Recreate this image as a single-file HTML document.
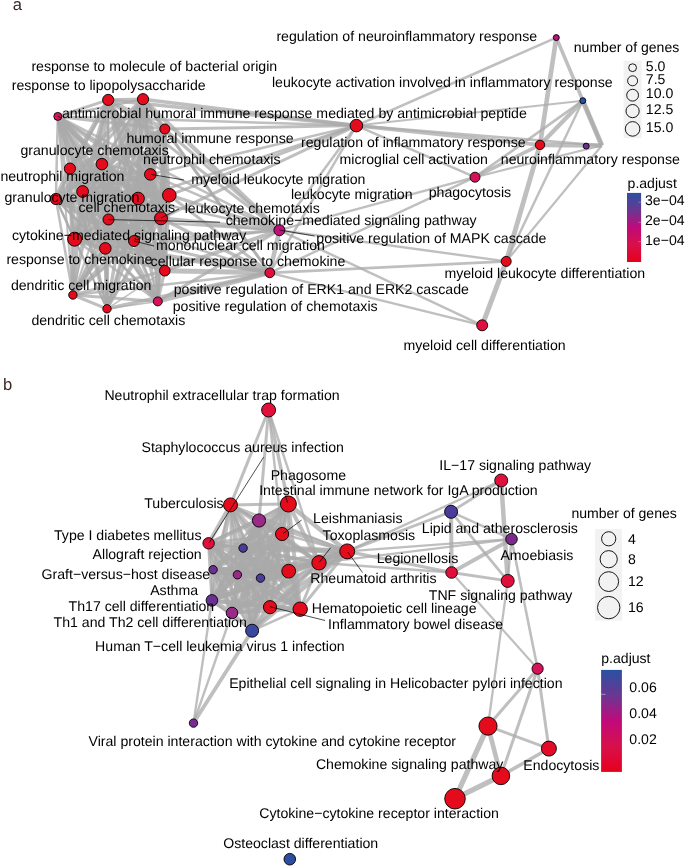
<!DOCTYPE html>
<html><head><meta charset="utf-8"><title>Enrichment map</title>
<style>
html,body{margin:0;padding:0;background:#fff;}
body{width:685px;height:867px;overflow:hidden;}
svg{display:block;}
text{font-family:"Liberation Sans",Arial,Helvetica,sans-serif;fill:#000;text-rendering:geometricPrecision;}
.lb text{font-size:14.14px;} .lbb text{font-size:14.12px;}
.lt{font-size:14.05px;}
.ll{font-size:14.1px;}
.pl{font-size:16.6px;fill:#3a2825;}
</style></head><body>
<svg width="685" height="867" viewBox="0 0 685 867">
<rect width="685" height="867" fill="#fff"/>
<g stroke="#a9a9a9" stroke-opacity="0.75" stroke-linecap="butt" fill="none">
<line x1="108.2" y1="99.9" x2="143.0" y2="99.2" stroke-width="3.5"/>
<line x1="108.2" y1="99.9" x2="57.8" y2="116.4" stroke-width="3.0"/>
<line x1="108.2" y1="99.9" x2="164.8" y2="129.0" stroke-width="4.0"/>
<line x1="108.2" y1="99.9" x2="69.9" y2="168.6" stroke-width="5.0"/>
<line x1="108.2" y1="99.9" x2="101.9" y2="164.1" stroke-width="2.5"/>
<line x1="108.2" y1="99.9" x2="150.3" y2="174.4" stroke-width="2.5"/>
<line x1="108.2" y1="99.9" x2="82.6" y2="191.5" stroke-width="4.5"/>
<line x1="108.2" y1="99.9" x2="55.9" y2="199.0" stroke-width="2.5"/>
<line x1="108.2" y1="99.9" x2="138.1" y2="198.5" stroke-width="3.5"/>
<line x1="108.2" y1="99.9" x2="169.3" y2="195.2" stroke-width="4.5"/>
<line x1="108.2" y1="99.9" x2="108.5" y2="219.5" stroke-width="2.5"/>
<line x1="108.2" y1="99.9" x2="161.0" y2="218.3" stroke-width="4.5"/>
<line x1="108.2" y1="99.9" x2="74.6" y2="239.2" stroke-width="3.0"/>
<line x1="108.2" y1="99.9" x2="134.0" y2="241.0" stroke-width="2.5"/>
<line x1="108.2" y1="99.9" x2="105.3" y2="248.4" stroke-width="2.5"/>
<line x1="108.2" y1="99.9" x2="164.8" y2="270.7" stroke-width="4.0"/>
<line x1="108.2" y1="99.9" x2="72.9" y2="295.0" stroke-width="3.0"/>
<line x1="108.2" y1="99.9" x2="157.8" y2="301.4" stroke-width="1.5"/>
<line x1="108.2" y1="99.9" x2="107.0" y2="308.8" stroke-width="2.0"/>
<line x1="143.0" y1="99.2" x2="57.8" y2="116.4" stroke-width="2.5"/>
<line x1="143.0" y1="99.2" x2="164.8" y2="129.0" stroke-width="4.5"/>
<line x1="143.0" y1="99.2" x2="69.9" y2="168.6" stroke-width="4.0"/>
<line x1="143.0" y1="99.2" x2="101.9" y2="164.1" stroke-width="2.5"/>
<line x1="143.0" y1="99.2" x2="150.3" y2="174.4" stroke-width="4.5"/>
<line x1="143.0" y1="99.2" x2="82.6" y2="191.5" stroke-width="2.5"/>
<line x1="143.0" y1="99.2" x2="55.9" y2="199.0" stroke-width="3.0"/>
<line x1="143.0" y1="99.2" x2="138.1" y2="198.5" stroke-width="5.0"/>
<line x1="143.0" y1="99.2" x2="169.3" y2="195.2" stroke-width="5.0"/>
<line x1="143.0" y1="99.2" x2="108.5" y2="219.5" stroke-width="4.5"/>
<line x1="143.0" y1="99.2" x2="161.0" y2="218.3" stroke-width="2.5"/>
<line x1="143.0" y1="99.2" x2="74.6" y2="239.2" stroke-width="4.5"/>
<line x1="143.0" y1="99.2" x2="134.0" y2="241.0" stroke-width="4.5"/>
<line x1="143.0" y1="99.2" x2="105.3" y2="248.4" stroke-width="4.0"/>
<line x1="143.0" y1="99.2" x2="164.8" y2="270.7" stroke-width="2.5"/>
<line x1="143.0" y1="99.2" x2="72.9" y2="295.0" stroke-width="2.0"/>
<line x1="143.0" y1="99.2" x2="157.8" y2="301.4" stroke-width="1.5"/>
<line x1="143.0" y1="99.2" x2="107.0" y2="308.8" stroke-width="3.5"/>
<line x1="57.8" y1="116.4" x2="164.8" y2="129.0" stroke-width="3.0"/>
<line x1="57.8" y1="116.4" x2="69.9" y2="168.6" stroke-width="3.5"/>
<line x1="57.8" y1="116.4" x2="101.9" y2="164.1" stroke-width="4.0"/>
<line x1="57.8" y1="116.4" x2="150.3" y2="174.4" stroke-width="3.0"/>
<line x1="57.8" y1="116.4" x2="82.6" y2="191.5" stroke-width="4.5"/>
<line x1="57.8" y1="116.4" x2="55.9" y2="199.0" stroke-width="2.5"/>
<line x1="57.8" y1="116.4" x2="138.1" y2="198.5" stroke-width="4.5"/>
<line x1="57.8" y1="116.4" x2="169.3" y2="195.2" stroke-width="3.5"/>
<line x1="57.8" y1="116.4" x2="108.5" y2="219.5" stroke-width="4.5"/>
<line x1="57.8" y1="116.4" x2="161.0" y2="218.3" stroke-width="5.0"/>
<line x1="57.8" y1="116.4" x2="74.6" y2="239.2" stroke-width="3.0"/>
<line x1="57.8" y1="116.4" x2="134.0" y2="241.0" stroke-width="2.5"/>
<line x1="57.8" y1="116.4" x2="105.3" y2="248.4" stroke-width="4.5"/>
<line x1="57.8" y1="116.4" x2="164.8" y2="270.7" stroke-width="4.5"/>
<line x1="57.8" y1="116.4" x2="72.9" y2="295.0" stroke-width="2.0"/>
<line x1="57.8" y1="116.4" x2="157.8" y2="301.4" stroke-width="2.5"/>
<line x1="57.8" y1="116.4" x2="107.0" y2="308.8" stroke-width="1.5"/>
<line x1="164.8" y1="129.0" x2="69.9" y2="168.6" stroke-width="4.5"/>
<line x1="164.8" y1="129.0" x2="101.9" y2="164.1" stroke-width="5.0"/>
<line x1="164.8" y1="129.0" x2="150.3" y2="174.4" stroke-width="2.5"/>
<line x1="164.8" y1="129.0" x2="82.6" y2="191.5" stroke-width="4.5"/>
<line x1="164.8" y1="129.0" x2="55.9" y2="199.0" stroke-width="2.5"/>
<line x1="164.8" y1="129.0" x2="138.1" y2="198.5" stroke-width="4.5"/>
<line x1="164.8" y1="129.0" x2="169.3" y2="195.2" stroke-width="3.0"/>
<line x1="164.8" y1="129.0" x2="108.5" y2="219.5" stroke-width="4.0"/>
<line x1="164.8" y1="129.0" x2="161.0" y2="218.3" stroke-width="5.0"/>
<line x1="164.8" y1="129.0" x2="74.6" y2="239.2" stroke-width="4.5"/>
<line x1="164.8" y1="129.0" x2="134.0" y2="241.0" stroke-width="4.0"/>
<line x1="164.8" y1="129.0" x2="105.3" y2="248.4" stroke-width="3.5"/>
<line x1="164.8" y1="129.0" x2="164.8" y2="270.7" stroke-width="4.0"/>
<line x1="164.8" y1="129.0" x2="72.9" y2="295.0" stroke-width="3.5"/>
<line x1="164.8" y1="129.0" x2="157.8" y2="301.4" stroke-width="3.0"/>
<line x1="164.8" y1="129.0" x2="107.0" y2="308.8" stroke-width="2.5"/>
<line x1="69.9" y1="168.6" x2="101.9" y2="164.1" stroke-width="3.5"/>
<line x1="69.9" y1="168.6" x2="150.3" y2="174.4" stroke-width="3.0"/>
<line x1="69.9" y1="168.6" x2="82.6" y2="191.5" stroke-width="3.0"/>
<line x1="69.9" y1="168.6" x2="55.9" y2="199.0" stroke-width="5.0"/>
<line x1="69.9" y1="168.6" x2="138.1" y2="198.5" stroke-width="3.0"/>
<line x1="69.9" y1="168.6" x2="169.3" y2="195.2" stroke-width="2.5"/>
<line x1="69.9" y1="168.6" x2="108.5" y2="219.5" stroke-width="4.5"/>
<line x1="69.9" y1="168.6" x2="161.0" y2="218.3" stroke-width="3.5"/>
<line x1="69.9" y1="168.6" x2="74.6" y2="239.2" stroke-width="4.5"/>
<line x1="69.9" y1="168.6" x2="134.0" y2="241.0" stroke-width="4.0"/>
<line x1="69.9" y1="168.6" x2="105.3" y2="248.4" stroke-width="3.5"/>
<line x1="69.9" y1="168.6" x2="164.8" y2="270.7" stroke-width="5.0"/>
<line x1="69.9" y1="168.6" x2="72.9" y2="295.0" stroke-width="3.0"/>
<line x1="69.9" y1="168.6" x2="157.8" y2="301.4" stroke-width="2.5"/>
<line x1="69.9" y1="168.6" x2="107.0" y2="308.8" stroke-width="3.5"/>
<line x1="101.9" y1="164.1" x2="150.3" y2="174.4" stroke-width="2.5"/>
<line x1="101.9" y1="164.1" x2="82.6" y2="191.5" stroke-width="2.5"/>
<line x1="101.9" y1="164.1" x2="55.9" y2="199.0" stroke-width="4.5"/>
<line x1="101.9" y1="164.1" x2="138.1" y2="198.5" stroke-width="4.0"/>
<line x1="101.9" y1="164.1" x2="169.3" y2="195.2" stroke-width="3.0"/>
<line x1="101.9" y1="164.1" x2="108.5" y2="219.5" stroke-width="3.5"/>
<line x1="101.9" y1="164.1" x2="161.0" y2="218.3" stroke-width="3.0"/>
<line x1="101.9" y1="164.1" x2="74.6" y2="239.2" stroke-width="4.0"/>
<line x1="101.9" y1="164.1" x2="134.0" y2="241.0" stroke-width="4.0"/>
<line x1="101.9" y1="164.1" x2="105.3" y2="248.4" stroke-width="2.5"/>
<line x1="101.9" y1="164.1" x2="164.8" y2="270.7" stroke-width="5.0"/>
<line x1="101.9" y1="164.1" x2="72.9" y2="295.0" stroke-width="1.5"/>
<line x1="101.9" y1="164.1" x2="157.8" y2="301.4" stroke-width="3.5"/>
<line x1="101.9" y1="164.1" x2="107.0" y2="308.8" stroke-width="3.5"/>
<line x1="150.3" y1="174.4" x2="82.6" y2="191.5" stroke-width="3.5"/>
<line x1="150.3" y1="174.4" x2="55.9" y2="199.0" stroke-width="3.5"/>
<line x1="150.3" y1="174.4" x2="138.1" y2="198.5" stroke-width="5.0"/>
<line x1="150.3" y1="174.4" x2="169.3" y2="195.2" stroke-width="3.5"/>
<line x1="150.3" y1="174.4" x2="108.5" y2="219.5" stroke-width="4.5"/>
<line x1="150.3" y1="174.4" x2="161.0" y2="218.3" stroke-width="4.0"/>
<line x1="150.3" y1="174.4" x2="74.6" y2="239.2" stroke-width="4.5"/>
<line x1="150.3" y1="174.4" x2="134.0" y2="241.0" stroke-width="4.0"/>
<line x1="150.3" y1="174.4" x2="105.3" y2="248.4" stroke-width="2.5"/>
<line x1="150.3" y1="174.4" x2="164.8" y2="270.7" stroke-width="2.5"/>
<line x1="150.3" y1="174.4" x2="72.9" y2="295.0" stroke-width="2.5"/>
<line x1="150.3" y1="174.4" x2="157.8" y2="301.4" stroke-width="3.0"/>
<line x1="150.3" y1="174.4" x2="107.0" y2="308.8" stroke-width="1.5"/>
<line x1="82.6" y1="191.5" x2="55.9" y2="199.0" stroke-width="2.5"/>
<line x1="82.6" y1="191.5" x2="138.1" y2="198.5" stroke-width="5.0"/>
<line x1="82.6" y1="191.5" x2="169.3" y2="195.2" stroke-width="5.0"/>
<line x1="82.6" y1="191.5" x2="108.5" y2="219.5" stroke-width="3.5"/>
<line x1="82.6" y1="191.5" x2="161.0" y2="218.3" stroke-width="5.0"/>
<line x1="82.6" y1="191.5" x2="74.6" y2="239.2" stroke-width="4.5"/>
<line x1="82.6" y1="191.5" x2="134.0" y2="241.0" stroke-width="5.0"/>
<line x1="82.6" y1="191.5" x2="105.3" y2="248.4" stroke-width="4.0"/>
<line x1="82.6" y1="191.5" x2="164.8" y2="270.7" stroke-width="3.5"/>
<line x1="82.6" y1="191.5" x2="72.9" y2="295.0" stroke-width="3.0"/>
<line x1="82.6" y1="191.5" x2="157.8" y2="301.4" stroke-width="2.5"/>
<line x1="82.6" y1="191.5" x2="107.0" y2="308.8" stroke-width="1.5"/>
<line x1="55.9" y1="199.0" x2="138.1" y2="198.5" stroke-width="4.0"/>
<line x1="55.9" y1="199.0" x2="169.3" y2="195.2" stroke-width="3.5"/>
<line x1="55.9" y1="199.0" x2="108.5" y2="219.5" stroke-width="3.0"/>
<line x1="55.9" y1="199.0" x2="161.0" y2="218.3" stroke-width="4.5"/>
<line x1="55.9" y1="199.0" x2="74.6" y2="239.2" stroke-width="2.5"/>
<line x1="55.9" y1="199.0" x2="134.0" y2="241.0" stroke-width="4.0"/>
<line x1="55.9" y1="199.0" x2="105.3" y2="248.4" stroke-width="2.5"/>
<line x1="55.9" y1="199.0" x2="164.8" y2="270.7" stroke-width="3.0"/>
<line x1="55.9" y1="199.0" x2="72.9" y2="295.0" stroke-width="2.5"/>
<line x1="55.9" y1="199.0" x2="157.8" y2="301.4" stroke-width="2.0"/>
<line x1="55.9" y1="199.0" x2="107.0" y2="308.8" stroke-width="2.0"/>
<line x1="138.1" y1="198.5" x2="169.3" y2="195.2" stroke-width="4.0"/>
<line x1="138.1" y1="198.5" x2="108.5" y2="219.5" stroke-width="4.0"/>
<line x1="138.1" y1="198.5" x2="161.0" y2="218.3" stroke-width="4.0"/>
<line x1="138.1" y1="198.5" x2="74.6" y2="239.2" stroke-width="2.5"/>
<line x1="138.1" y1="198.5" x2="134.0" y2="241.0" stroke-width="3.0"/>
<line x1="138.1" y1="198.5" x2="105.3" y2="248.4" stroke-width="4.0"/>
<line x1="138.1" y1="198.5" x2="164.8" y2="270.7" stroke-width="4.0"/>
<line x1="138.1" y1="198.5" x2="72.9" y2="295.0" stroke-width="3.5"/>
<line x1="138.1" y1="198.5" x2="157.8" y2="301.4" stroke-width="2.5"/>
<line x1="138.1" y1="198.5" x2="107.0" y2="308.8" stroke-width="2.0"/>
<line x1="169.3" y1="195.2" x2="108.5" y2="219.5" stroke-width="4.0"/>
<line x1="169.3" y1="195.2" x2="161.0" y2="218.3" stroke-width="4.5"/>
<line x1="169.3" y1="195.2" x2="74.6" y2="239.2" stroke-width="3.5"/>
<line x1="169.3" y1="195.2" x2="134.0" y2="241.0" stroke-width="5.0"/>
<line x1="169.3" y1="195.2" x2="105.3" y2="248.4" stroke-width="4.0"/>
<line x1="169.3" y1="195.2" x2="164.8" y2="270.7" stroke-width="3.5"/>
<line x1="169.3" y1="195.2" x2="72.9" y2="295.0" stroke-width="3.0"/>
<line x1="169.3" y1="195.2" x2="157.8" y2="301.4" stroke-width="2.0"/>
<line x1="169.3" y1="195.2" x2="107.0" y2="308.8" stroke-width="2.0"/>
<line x1="108.5" y1="219.5" x2="161.0" y2="218.3" stroke-width="2.5"/>
<line x1="108.5" y1="219.5" x2="74.6" y2="239.2" stroke-width="3.0"/>
<line x1="108.5" y1="219.5" x2="134.0" y2="241.0" stroke-width="3.0"/>
<line x1="108.5" y1="219.5" x2="105.3" y2="248.4" stroke-width="3.0"/>
<line x1="108.5" y1="219.5" x2="164.8" y2="270.7" stroke-width="5.0"/>
<line x1="108.5" y1="219.5" x2="72.9" y2="295.0" stroke-width="2.0"/>
<line x1="108.5" y1="219.5" x2="157.8" y2="301.4" stroke-width="1.5"/>
<line x1="108.5" y1="219.5" x2="107.0" y2="308.8" stroke-width="3.0"/>
<line x1="161.0" y1="218.3" x2="74.6" y2="239.2" stroke-width="4.5"/>
<line x1="161.0" y1="218.3" x2="134.0" y2="241.0" stroke-width="3.0"/>
<line x1="161.0" y1="218.3" x2="105.3" y2="248.4" stroke-width="3.5"/>
<line x1="161.0" y1="218.3" x2="164.8" y2="270.7" stroke-width="3.5"/>
<line x1="161.0" y1="218.3" x2="72.9" y2="295.0" stroke-width="1.5"/>
<line x1="161.0" y1="218.3" x2="157.8" y2="301.4" stroke-width="2.0"/>
<line x1="161.0" y1="218.3" x2="107.0" y2="308.8" stroke-width="3.0"/>
<line x1="74.6" y1="239.2" x2="134.0" y2="241.0" stroke-width="4.5"/>
<line x1="74.6" y1="239.2" x2="105.3" y2="248.4" stroke-width="3.5"/>
<line x1="74.6" y1="239.2" x2="164.8" y2="270.7" stroke-width="4.5"/>
<line x1="74.6" y1="239.2" x2="72.9" y2="295.0" stroke-width="3.5"/>
<line x1="74.6" y1="239.2" x2="157.8" y2="301.4" stroke-width="2.5"/>
<line x1="74.6" y1="239.2" x2="107.0" y2="308.8" stroke-width="2.0"/>
<line x1="134.0" y1="241.0" x2="105.3" y2="248.4" stroke-width="5.0"/>
<line x1="134.0" y1="241.0" x2="164.8" y2="270.7" stroke-width="4.5"/>
<line x1="134.0" y1="241.0" x2="72.9" y2="295.0" stroke-width="3.5"/>
<line x1="134.0" y1="241.0" x2="157.8" y2="301.4" stroke-width="1.5"/>
<line x1="134.0" y1="241.0" x2="107.0" y2="308.8" stroke-width="3.0"/>
<line x1="105.3" y1="248.4" x2="164.8" y2="270.7" stroke-width="5.0"/>
<line x1="105.3" y1="248.4" x2="72.9" y2="295.0" stroke-width="3.5"/>
<line x1="105.3" y1="248.4" x2="157.8" y2="301.4" stroke-width="3.0"/>
<line x1="105.3" y1="248.4" x2="107.0" y2="308.8" stroke-width="3.0"/>
<line x1="164.8" y1="270.7" x2="72.9" y2="295.0" stroke-width="3.0"/>
<line x1="164.8" y1="270.7" x2="157.8" y2="301.4" stroke-width="3.0"/>
<line x1="164.8" y1="270.7" x2="107.0" y2="308.8" stroke-width="1.5"/>
<line x1="72.9" y1="295.0" x2="157.8" y2="301.4" stroke-width="3.0"/>
<line x1="72.9" y1="295.0" x2="107.0" y2="308.8" stroke-width="3.0"/>
<line x1="157.8" y1="301.4" x2="107.0" y2="308.8" stroke-width="1.5"/>
<line x1="108.2" y1="99.9" x2="356.4" y2="125.6" stroke-width="3.5"/>
<line x1="143.0" y1="99.2" x2="356.4" y2="125.6" stroke-width="3.5"/>
<line x1="57.8" y1="116.4" x2="356.4" y2="125.6" stroke-width="2.5"/>
<line x1="164.8" y1="129.0" x2="356.4" y2="125.6" stroke-width="3.0"/>
<line x1="150.3" y1="174.4" x2="356.4" y2="125.6" stroke-width="2.5"/>
<line x1="169.3" y1="195.2" x2="356.4" y2="125.6" stroke-width="3.0"/>
<line x1="161.0" y1="218.3" x2="356.4" y2="125.6" stroke-width="3.0"/>
<line x1="138.1" y1="198.5" x2="356.4" y2="125.6" stroke-width="2.5"/>
<line x1="108.2" y1="99.9" x2="279.4" y2="230.2" stroke-width="3.0"/>
<line x1="143.0" y1="99.2" x2="279.4" y2="230.2" stroke-width="4.2"/>
<line x1="57.8" y1="116.4" x2="279.4" y2="230.2" stroke-width="2.5"/>
<line x1="164.8" y1="129.0" x2="279.4" y2="230.2" stroke-width="3.2"/>
<line x1="150.3" y1="174.4" x2="279.4" y2="230.2" stroke-width="2.5"/>
<line x1="169.3" y1="195.2" x2="279.4" y2="230.2" stroke-width="3.5"/>
<line x1="161.0" y1="218.3" x2="279.4" y2="230.2" stroke-width="4.0"/>
<line x1="138.1" y1="198.5" x2="279.4" y2="230.2" stroke-width="2.5"/>
<line x1="134.0" y1="241.0" x2="279.4" y2="230.2" stroke-width="3.0"/>
<line x1="164.8" y1="270.7" x2="279.4" y2="230.2" stroke-width="4.0"/>
<line x1="157.8" y1="301.4" x2="279.4" y2="230.2" stroke-width="3.0"/>
<line x1="108.5" y1="219.5" x2="279.4" y2="230.2" stroke-width="2.5"/>
<line x1="105.3" y1="248.4" x2="279.4" y2="230.2" stroke-width="2.5"/>
<line x1="143.0" y1="99.2" x2="269.8" y2="272.8" stroke-width="2.5"/>
<line x1="164.8" y1="129.0" x2="269.8" y2="272.8" stroke-width="3.0"/>
<line x1="169.3" y1="195.2" x2="269.8" y2="272.8" stroke-width="3.0"/>
<line x1="161.0" y1="218.3" x2="269.8" y2="272.8" stroke-width="3.5"/>
<line x1="134.0" y1="241.0" x2="269.8" y2="272.8" stroke-width="3.0"/>
<line x1="164.8" y1="270.7" x2="269.8" y2="272.8" stroke-width="5.0"/>
<line x1="157.8" y1="301.4" x2="269.8" y2="272.8" stroke-width="4.5"/>
<line x1="107.0" y1="308.8" x2="269.8" y2="272.8" stroke-width="3.5"/>
<line x1="105.3" y1="248.4" x2="269.8" y2="272.8" stroke-width="3.0"/>
<line x1="74.6" y1="239.2" x2="269.8" y2="272.8" stroke-width="3.0"/>
<line x1="108.5" y1="219.5" x2="269.8" y2="272.8" stroke-width="2.5"/>
<line x1="72.9" y1="295.0" x2="269.8" y2="272.8" stroke-width="2.5"/>
<line x1="279.4" y1="230.2" x2="269.8" y2="272.8" stroke-width="4.5"/>
<line x1="356.4" y1="125.6" x2="279.4" y2="230.2" stroke-width="2.5"/>
<line x1="356.4" y1="125.6" x2="269.8" y2="272.8" stroke-width="2.5"/>
<line x1="356.4" y1="125.6" x2="556.3" y2="37.6" stroke-width="2.6"/>
<line x1="356.4" y1="125.6" x2="582.8" y2="100.7" stroke-width="2.0"/>
<line x1="356.4" y1="125.6" x2="540.0" y2="144.9" stroke-width="3.8"/>
<line x1="356.4" y1="125.6" x2="601.8" y2="145.5" stroke-width="2.6"/>
<line x1="356.4" y1="125.6" x2="475.0" y2="177.2" stroke-width="2.4"/>
<line x1="475.0" y1="177.2" x2="279.4" y2="230.2" stroke-width="2.4"/>
<line x1="475.0" y1="177.2" x2="269.8" y2="272.8" stroke-width="2.4"/>
<line x1="475.0" y1="177.2" x2="540.0" y2="144.9" stroke-width="3.7"/>
<line x1="475.0" y1="177.2" x2="582.8" y2="100.7" stroke-width="2.7"/>
<line x1="475.0" y1="177.2" x2="601.8" y2="145.5" stroke-width="2.2"/>
<line x1="279.4" y1="230.2" x2="506.2" y2="261.4" stroke-width="2.4"/>
<line x1="279.4" y1="230.2" x2="482.2" y2="325.3" stroke-width="2.4"/>
<line x1="269.8" y1="272.8" x2="506.2" y2="261.4" stroke-width="2.8"/>
<line x1="269.8" y1="272.8" x2="482.2" y2="325.3" stroke-width="2.4"/>
<line x1="506.2" y1="261.4" x2="482.2" y2="325.3" stroke-width="5.0"/>
<line x1="506.2" y1="261.4" x2="540.0" y2="144.9" stroke-width="4.8"/>
<line x1="506.2" y1="261.4" x2="601.8" y2="145.5" stroke-width="2.2"/>
<line x1="506.2" y1="261.4" x2="582.8" y2="100.7" stroke-width="2.4"/>
<line x1="556.3" y1="37.6" x2="540.0" y2="144.9" stroke-width="4.6"/>
<line x1="556.3" y1="37.6" x2="601.8" y2="145.5" stroke-width="3.6"/>
<line x1="582.8" y1="100.7" x2="540.0" y2="144.9" stroke-width="4.3"/>
<line x1="582.8" y1="100.7" x2="601.8" y2="145.5" stroke-width="5.0"/>
<line x1="540.0" y1="144.9" x2="601.8" y2="145.5" stroke-width="4.7"/>
</g>
<g stroke="#000" stroke-width="0.9">
<circle cx="108.2" cy="99.9" r="5.6" fill="#e30b1c"/>
<circle cx="143.0" cy="99.2" r="5.6" fill="#e30b1c"/>
<circle cx="57.8" cy="116.4" r="4.0" fill="#d8125a"/>
<circle cx="164.8" cy="129.0" r="5.0" fill="#e30b1c"/>
<circle cx="69.9" cy="168.6" r="5.6" fill="#e30b1c"/>
<circle cx="101.9" cy="164.1" r="5.8" fill="#e30b1c"/>
<circle cx="150.3" cy="174.4" r="5.8" fill="#e30b1c"/>
<circle cx="82.6" cy="191.5" r="5.9" fill="#e30b1c"/>
<circle cx="55.9" cy="199.0" r="5.6" fill="#e30b1c"/>
<circle cx="138.1" cy="198.5" r="6.3" fill="#e30b1c"/>
<circle cx="169.3" cy="195.2" r="6.8" fill="#e30b1c"/>
<circle cx="108.5" cy="219.5" r="5.5" fill="#e30b1c"/>
<circle cx="161.0" cy="218.3" r="6.5" fill="#e30b1c"/>
<circle cx="74.6" cy="239.2" r="7.0" fill="#e30b1c"/>
<circle cx="134.0" cy="241.0" r="5.5" fill="#e30b1c"/>
<circle cx="105.3" cy="248.4" r="5.8" fill="#e30b1c"/>
<circle cx="164.8" cy="270.7" r="5.3" fill="#e30b1c"/>
<circle cx="72.9" cy="295.0" r="4.2" fill="#e30b1c"/>
<circle cx="157.8" cy="301.4" r="4.5" fill="#d8125a"/>
<circle cx="107.0" cy="308.8" r="4.2" fill="#e30b1c"/>
<circle cx="356.4" cy="125.6" r="6.3" fill="#e30b1c"/>
<circle cx="279.4" cy="230.2" r="5.5" fill="#c0107a"/>
<circle cx="269.8" cy="272.8" r="4.9" fill="#e00f3c"/>
<circle cx="556.3" cy="37.6" r="3.0" fill="#c0107a"/>
<circle cx="582.8" cy="100.7" r="3.0" fill="#2b4ea2"/>
<circle cx="540.0" cy="144.9" r="4.7" fill="#e30b1c"/>
<circle cx="586.2" cy="146.1" r="3.0" fill="#6a3090"/>
<circle cx="475.0" cy="177.2" r="5.0" fill="#d8125a"/>
<circle cx="506.2" cy="261.4" r="5.0" fill="#e30b1c"/>
<circle cx="482.2" cy="325.3" r="5.5" fill="#e00f3c"/>
</g>
<g stroke="#000" stroke-width="0.7">
<line x1="57.8" y1="116.4" x2="61.5" y2="117.8"/>
<line x1="151.0" y1="174.4" x2="184.0" y2="180.0"/>
<line x1="161.0" y1="218.0" x2="179.0" y2="209.0"/>
<line x1="108.7" y1="219.6" x2="220.0" y2="222.2"/>
<line x1="134.0" y1="241.0" x2="154.0" y2="246.0"/>
<line x1="279.5" y1="230.0" x2="314.5" y2="236.0"/>
</g>
<g class="lb">
<text x="276.4" y="40.9">regulation of neuroinflammatory response</text>
<text x="271.9" y="86.9">leukocyte activation involved in inflammatory response</text>
<text x="31.4" y="70.9">response to molecule of bacterial origin</text>
<text x="11.7" y="89.9">response to lipopolysaccharide</text>
<text x="62.0" y="117.9">antimicrobial humoral immune response mediated by antimicrobial peptide</text>
<text x="126.4" y="143.2">humoral immune response</text>
<text x="301.0" y="147.1">regulation of inflammatory response</text>
<text x="20.4" y="154.7">granulocyte chemotaxis</text>
<text x="143.1" y="164.4">neutrophil chemotaxis</text>
<text x="339.5" y="163.6">microglial cell activation</text>
<text x="500.8" y="163.6">neuroinflammatory response</text>
<text x="0.4" y="180.7">neutrophil migration</text>
<text x="191.2" y="183.5">myeloid leukocyte migration</text>
<text x="290.9" y="198.7">leukocyte migration</text>
<text x="428.7" y="197.2">phagocytosis</text>
<text x="4.4" y="201.5">granulocyte migration</text>
<text x="78.5" y="211.9">cell chemotaxis</text>
<text x="184.7" y="212.9">leukocyte chemotaxis</text>
<text x="225.7" y="224.9">chemokine−mediated signaling pathway</text>
<text x="11.9" y="239.9">cytokine−mediated signaling pathway</text>
<text x="316.3" y="243.1">positive regulation of MAPK cascade</text>
<text x="156.1" y="249.6">mononuclear cell migration</text>
<text x="6.4" y="263.6">response to chemokine</text>
<text x="150.6" y="266.1">cellular response to chemokine</text>
<text x="444.4" y="277.9">myeloid leukocyte differentiation</text>
<text x="10.9" y="289.6">dendritic cell migration</text>
<text x="173.7" y="293.9">positive regulation of ERK1 and ERK2 cascade</text>
<text x="172.7" y="311.2">positive regulation of chemotaxis</text>
<text x="31.4" y="325.2">dendritic cell chemotaxis</text>
<text x="403.4" y="350.4">myeloid cell differentiation</text>
</g>
<g stroke="#a9a9a9" stroke-opacity="0.75" stroke-linecap="butt" fill="none">
<line x1="230.5" y1="504.9" x2="288.4" y2="504.0" stroke-width="3.0"/>
<line x1="230.5" y1="504.9" x2="259.0" y2="520.5" stroke-width="2.5"/>
<line x1="230.5" y1="504.9" x2="282.1" y2="534.0" stroke-width="3.0"/>
<line x1="230.5" y1="504.9" x2="208.6" y2="543.3" stroke-width="4.0"/>
<line x1="230.5" y1="504.9" x2="243.1" y2="548.1" stroke-width="3.0"/>
<line x1="230.5" y1="504.9" x2="347.2" y2="551.4" stroke-width="2.5"/>
<line x1="230.5" y1="504.9" x2="319.0" y2="562.8" stroke-width="3.5"/>
<line x1="230.5" y1="504.9" x2="288.7" y2="571.2" stroke-width="4.5"/>
<line x1="230.5" y1="504.9" x2="213.1" y2="569.7" stroke-width="2.5"/>
<line x1="230.5" y1="504.9" x2="237.4" y2="574.8" stroke-width="2.5"/>
<line x1="230.5" y1="504.9" x2="260.5" y2="578.1" stroke-width="2.5"/>
<line x1="230.5" y1="504.9" x2="211.9" y2="600.4" stroke-width="4.5"/>
<line x1="230.5" y1="504.9" x2="270.0" y2="607.2" stroke-width="3.0"/>
<line x1="230.5" y1="504.9" x2="300.2" y2="609.2" stroke-width="4.5"/>
<line x1="230.5" y1="504.9" x2="232.0" y2="613.0" stroke-width="2.5"/>
<line x1="230.5" y1="504.9" x2="252.1" y2="630.7" stroke-width="3.5"/>
<line x1="288.4" y1="504.0" x2="259.0" y2="520.5" stroke-width="4.5"/>
<line x1="288.4" y1="504.0" x2="282.1" y2="534.0" stroke-width="2.5"/>
<line x1="288.4" y1="504.0" x2="208.6" y2="543.3" stroke-width="2.5"/>
<line x1="288.4" y1="504.0" x2="243.1" y2="548.1" stroke-width="3.0"/>
<line x1="288.4" y1="504.0" x2="347.2" y2="551.4" stroke-width="4.5"/>
<line x1="288.4" y1="504.0" x2="319.0" y2="562.8" stroke-width="4.0"/>
<line x1="288.4" y1="504.0" x2="288.7" y2="571.2" stroke-width="3.0"/>
<line x1="288.4" y1="504.0" x2="213.1" y2="569.7" stroke-width="5.0"/>
<line x1="288.4" y1="504.0" x2="237.4" y2="574.8" stroke-width="3.5"/>
<line x1="288.4" y1="504.0" x2="260.5" y2="578.1" stroke-width="3.5"/>
<line x1="288.4" y1="504.0" x2="211.9" y2="600.4" stroke-width="4.5"/>
<line x1="288.4" y1="504.0" x2="270.0" y2="607.2" stroke-width="3.5"/>
<line x1="288.4" y1="504.0" x2="300.2" y2="609.2" stroke-width="4.0"/>
<line x1="288.4" y1="504.0" x2="232.0" y2="613.0" stroke-width="2.5"/>
<line x1="288.4" y1="504.0" x2="252.1" y2="630.7" stroke-width="2.5"/>
<line x1="259.0" y1="520.5" x2="282.1" y2="534.0" stroke-width="4.0"/>
<line x1="259.0" y1="520.5" x2="208.6" y2="543.3" stroke-width="4.0"/>
<line x1="259.0" y1="520.5" x2="243.1" y2="548.1" stroke-width="4.0"/>
<line x1="259.0" y1="520.5" x2="347.2" y2="551.4" stroke-width="4.0"/>
<line x1="259.0" y1="520.5" x2="319.0" y2="562.8" stroke-width="3.5"/>
<line x1="259.0" y1="520.5" x2="288.7" y2="571.2" stroke-width="2.5"/>
<line x1="259.0" y1="520.5" x2="213.1" y2="569.7" stroke-width="3.0"/>
<line x1="259.0" y1="520.5" x2="237.4" y2="574.8" stroke-width="2.5"/>
<line x1="259.0" y1="520.5" x2="260.5" y2="578.1" stroke-width="5.0"/>
<line x1="259.0" y1="520.5" x2="211.9" y2="600.4" stroke-width="3.5"/>
<line x1="259.0" y1="520.5" x2="270.0" y2="607.2" stroke-width="5.0"/>
<line x1="259.0" y1="520.5" x2="300.2" y2="609.2" stroke-width="3.5"/>
<line x1="259.0" y1="520.5" x2="232.0" y2="613.0" stroke-width="4.0"/>
<line x1="259.0" y1="520.5" x2="252.1" y2="630.7" stroke-width="5.0"/>
<line x1="282.1" y1="534.0" x2="208.6" y2="543.3" stroke-width="3.0"/>
<line x1="282.1" y1="534.0" x2="243.1" y2="548.1" stroke-width="4.5"/>
<line x1="282.1" y1="534.0" x2="347.2" y2="551.4" stroke-width="2.5"/>
<line x1="282.1" y1="534.0" x2="319.0" y2="562.8" stroke-width="3.0"/>
<line x1="282.1" y1="534.0" x2="288.7" y2="571.2" stroke-width="4.5"/>
<line x1="282.1" y1="534.0" x2="213.1" y2="569.7" stroke-width="3.5"/>
<line x1="282.1" y1="534.0" x2="237.4" y2="574.8" stroke-width="3.0"/>
<line x1="282.1" y1="534.0" x2="260.5" y2="578.1" stroke-width="5.0"/>
<line x1="282.1" y1="534.0" x2="211.9" y2="600.4" stroke-width="4.5"/>
<line x1="282.1" y1="534.0" x2="270.0" y2="607.2" stroke-width="2.5"/>
<line x1="282.1" y1="534.0" x2="300.2" y2="609.2" stroke-width="4.5"/>
<line x1="282.1" y1="534.0" x2="232.0" y2="613.0" stroke-width="3.5"/>
<line x1="282.1" y1="534.0" x2="252.1" y2="630.7" stroke-width="5.0"/>
<line x1="208.6" y1="543.3" x2="243.1" y2="548.1" stroke-width="2.5"/>
<line x1="208.6" y1="543.3" x2="347.2" y2="551.4" stroke-width="5.0"/>
<line x1="208.6" y1="543.3" x2="319.0" y2="562.8" stroke-width="3.5"/>
<line x1="208.6" y1="543.3" x2="288.7" y2="571.2" stroke-width="4.5"/>
<line x1="208.6" y1="543.3" x2="213.1" y2="569.7" stroke-width="3.5"/>
<line x1="208.6" y1="543.3" x2="237.4" y2="574.8" stroke-width="3.0"/>
<line x1="208.6" y1="543.3" x2="260.5" y2="578.1" stroke-width="3.5"/>
<line x1="208.6" y1="543.3" x2="211.9" y2="600.4" stroke-width="3.0"/>
<line x1="208.6" y1="543.3" x2="270.0" y2="607.2" stroke-width="4.5"/>
<line x1="208.6" y1="543.3" x2="300.2" y2="609.2" stroke-width="4.5"/>
<line x1="208.6" y1="543.3" x2="232.0" y2="613.0" stroke-width="4.5"/>
<line x1="208.6" y1="543.3" x2="252.1" y2="630.7" stroke-width="3.5"/>
<line x1="243.1" y1="548.1" x2="347.2" y2="551.4" stroke-width="5.0"/>
<line x1="243.1" y1="548.1" x2="319.0" y2="562.8" stroke-width="3.0"/>
<line x1="243.1" y1="548.1" x2="288.7" y2="571.2" stroke-width="4.5"/>
<line x1="243.1" y1="548.1" x2="213.1" y2="569.7" stroke-width="3.0"/>
<line x1="243.1" y1="548.1" x2="237.4" y2="574.8" stroke-width="3.0"/>
<line x1="243.1" y1="548.1" x2="260.5" y2="578.1" stroke-width="4.0"/>
<line x1="243.1" y1="548.1" x2="211.9" y2="600.4" stroke-width="5.0"/>
<line x1="243.1" y1="548.1" x2="270.0" y2="607.2" stroke-width="3.0"/>
<line x1="243.1" y1="548.1" x2="300.2" y2="609.2" stroke-width="3.0"/>
<line x1="243.1" y1="548.1" x2="232.0" y2="613.0" stroke-width="4.5"/>
<line x1="243.1" y1="548.1" x2="252.1" y2="630.7" stroke-width="4.0"/>
<line x1="347.2" y1="551.4" x2="319.0" y2="562.8" stroke-width="3.5"/>
<line x1="347.2" y1="551.4" x2="288.7" y2="571.2" stroke-width="5.0"/>
<line x1="347.2" y1="551.4" x2="213.1" y2="569.7" stroke-width="2.5"/>
<line x1="347.2" y1="551.4" x2="237.4" y2="574.8" stroke-width="2.5"/>
<line x1="347.2" y1="551.4" x2="260.5" y2="578.1" stroke-width="3.5"/>
<line x1="347.2" y1="551.4" x2="211.9" y2="600.4" stroke-width="4.0"/>
<line x1="347.2" y1="551.4" x2="270.0" y2="607.2" stroke-width="3.5"/>
<line x1="347.2" y1="551.4" x2="300.2" y2="609.2" stroke-width="3.0"/>
<line x1="347.2" y1="551.4" x2="232.0" y2="613.0" stroke-width="5.0"/>
<line x1="347.2" y1="551.4" x2="252.1" y2="630.7" stroke-width="4.5"/>
<line x1="319.0" y1="562.8" x2="288.7" y2="571.2" stroke-width="3.5"/>
<line x1="319.0" y1="562.8" x2="213.1" y2="569.7" stroke-width="4.0"/>
<line x1="319.0" y1="562.8" x2="237.4" y2="574.8" stroke-width="5.0"/>
<line x1="319.0" y1="562.8" x2="260.5" y2="578.1" stroke-width="3.5"/>
<line x1="319.0" y1="562.8" x2="211.9" y2="600.4" stroke-width="3.5"/>
<line x1="319.0" y1="562.8" x2="270.0" y2="607.2" stroke-width="2.5"/>
<line x1="319.0" y1="562.8" x2="300.2" y2="609.2" stroke-width="3.0"/>
<line x1="319.0" y1="562.8" x2="232.0" y2="613.0" stroke-width="2.5"/>
<line x1="319.0" y1="562.8" x2="252.1" y2="630.7" stroke-width="3.0"/>
<line x1="288.7" y1="571.2" x2="213.1" y2="569.7" stroke-width="4.0"/>
<line x1="288.7" y1="571.2" x2="237.4" y2="574.8" stroke-width="3.0"/>
<line x1="288.7" y1="571.2" x2="260.5" y2="578.1" stroke-width="3.5"/>
<line x1="288.7" y1="571.2" x2="211.9" y2="600.4" stroke-width="3.0"/>
<line x1="288.7" y1="571.2" x2="270.0" y2="607.2" stroke-width="4.0"/>
<line x1="288.7" y1="571.2" x2="300.2" y2="609.2" stroke-width="4.5"/>
<line x1="288.7" y1="571.2" x2="232.0" y2="613.0" stroke-width="4.5"/>
<line x1="288.7" y1="571.2" x2="252.1" y2="630.7" stroke-width="2.5"/>
<line x1="213.1" y1="569.7" x2="237.4" y2="574.8" stroke-width="4.0"/>
<line x1="213.1" y1="569.7" x2="260.5" y2="578.1" stroke-width="5.0"/>
<line x1="213.1" y1="569.7" x2="211.9" y2="600.4" stroke-width="3.5"/>
<line x1="213.1" y1="569.7" x2="270.0" y2="607.2" stroke-width="5.0"/>
<line x1="213.1" y1="569.7" x2="300.2" y2="609.2" stroke-width="2.5"/>
<line x1="213.1" y1="569.7" x2="232.0" y2="613.0" stroke-width="5.0"/>
<line x1="213.1" y1="569.7" x2="252.1" y2="630.7" stroke-width="2.5"/>
<line x1="237.4" y1="574.8" x2="260.5" y2="578.1" stroke-width="4.0"/>
<line x1="237.4" y1="574.8" x2="211.9" y2="600.4" stroke-width="5.0"/>
<line x1="237.4" y1="574.8" x2="270.0" y2="607.2" stroke-width="3.0"/>
<line x1="237.4" y1="574.8" x2="300.2" y2="609.2" stroke-width="4.0"/>
<line x1="237.4" y1="574.8" x2="232.0" y2="613.0" stroke-width="3.0"/>
<line x1="237.4" y1="574.8" x2="252.1" y2="630.7" stroke-width="4.0"/>
<line x1="260.5" y1="578.1" x2="211.9" y2="600.4" stroke-width="5.0"/>
<line x1="260.5" y1="578.1" x2="270.0" y2="607.2" stroke-width="3.5"/>
<line x1="260.5" y1="578.1" x2="300.2" y2="609.2" stroke-width="2.5"/>
<line x1="260.5" y1="578.1" x2="232.0" y2="613.0" stroke-width="5.0"/>
<line x1="260.5" y1="578.1" x2="252.1" y2="630.7" stroke-width="4.0"/>
<line x1="211.9" y1="600.4" x2="270.0" y2="607.2" stroke-width="4.0"/>
<line x1="211.9" y1="600.4" x2="300.2" y2="609.2" stroke-width="4.0"/>
<line x1="211.9" y1="600.4" x2="232.0" y2="613.0" stroke-width="5.0"/>
<line x1="211.9" y1="600.4" x2="252.1" y2="630.7" stroke-width="2.5"/>
<line x1="270.0" y1="607.2" x2="300.2" y2="609.2" stroke-width="5.0"/>
<line x1="270.0" y1="607.2" x2="232.0" y2="613.0" stroke-width="3.0"/>
<line x1="270.0" y1="607.2" x2="252.1" y2="630.7" stroke-width="3.0"/>
<line x1="300.2" y1="609.2" x2="232.0" y2="613.0" stroke-width="3.0"/>
<line x1="300.2" y1="609.2" x2="252.1" y2="630.7" stroke-width="2.5"/>
<line x1="232.0" y1="613.0" x2="252.1" y2="630.7" stroke-width="3.0"/>
<line x1="268.6" y1="410.0" x2="230.5" y2="504.9" stroke-width="3.0"/>
<line x1="268.6" y1="410.0" x2="259.0" y2="520.5" stroke-width="3.0"/>
<line x1="268.6" y1="410.0" x2="288.4" y2="504.0" stroke-width="3.5"/>
<line x1="268.6" y1="410.0" x2="282.1" y2="534.0" stroke-width="2.4"/>
<line x1="268.6" y1="410.0" x2="319.0" y2="562.8" stroke-width="2.4"/>
<line x1="347.2" y1="551.4" x2="501.2" y2="480.5" stroke-width="2.4"/>
<line x1="347.2" y1="551.4" x2="451.1" y2="511.8" stroke-width="2.8"/>
<line x1="347.2" y1="551.4" x2="511.5" y2="539.1" stroke-width="2.2"/>
<line x1="347.2" y1="551.4" x2="451.6" y2="572.5" stroke-width="3.2"/>
<line x1="319.0" y1="562.8" x2="451.6" y2="572.5" stroke-width="2.6"/>
<line x1="319.0" y1="562.8" x2="511.5" y2="539.1" stroke-width="2.2"/>
<line x1="501.2" y1="480.5" x2="451.1" y2="511.8" stroke-width="2.8"/>
<line x1="501.2" y1="480.5" x2="507.7" y2="580.9" stroke-width="4.5"/>
<line x1="451.1" y1="511.8" x2="451.6" y2="572.5" stroke-width="4.0"/>
<line x1="451.1" y1="511.8" x2="511.5" y2="539.1" stroke-width="2.5"/>
<line x1="451.1" y1="511.8" x2="507.7" y2="580.9" stroke-width="2.8"/>
<line x1="511.5" y1="539.1" x2="451.6" y2="572.5" stroke-width="4.0"/>
<line x1="511.5" y1="539.1" x2="507.7" y2="580.9" stroke-width="2.4"/>
<line x1="511.5" y1="539.1" x2="537.6" y2="668.7" stroke-width="2.6"/>
<line x1="451.6" y1="572.5" x2="507.7" y2="580.9" stroke-width="2.8"/>
<line x1="451.6" y1="572.5" x2="537.6" y2="668.7" stroke-width="2.2"/>
<line x1="507.7" y1="580.9" x2="488.0" y2="726.1" stroke-width="2.3"/>
<line x1="537.6" y1="668.7" x2="488.0" y2="726.1" stroke-width="3.0"/>
<line x1="537.6" y1="668.7" x2="500.9" y2="775.9" stroke-width="3.0"/>
<line x1="537.6" y1="668.7" x2="548.9" y2="748.6" stroke-width="3.0"/>
<line x1="488.0" y1="726.1" x2="548.9" y2="748.6" stroke-width="2.8"/>
<line x1="488.0" y1="726.1" x2="500.9" y2="775.9" stroke-width="4.6"/>
<line x1="488.0" y1="726.1" x2="455.0" y2="798.7" stroke-width="5.2"/>
<line x1="500.9" y1="775.9" x2="455.0" y2="798.7" stroke-width="5.2"/>
<line x1="500.9" y1="775.9" x2="548.9" y2="748.6" stroke-width="3.5"/>
<line x1="193.5" y1="723.1" x2="211.9" y2="600.4" stroke-width="2.4"/>
<line x1="193.5" y1="723.1" x2="232.0" y2="613.0" stroke-width="2.4"/>
<line x1="193.5" y1="723.1" x2="252.1" y2="630.7" stroke-width="3.8"/>
</g>
<g stroke="#000" stroke-width="0.9">
<circle cx="268.6" cy="410.0" r="7.0" fill="#e00f3c"/>
<circle cx="230.5" cy="504.9" r="7.0" fill="#e30b1c"/>
<circle cx="288.4" cy="504.0" r="8.0" fill="#e30b1c"/>
<circle cx="259.0" cy="520.5" r="6.6" fill="#9a2a88"/>
<circle cx="282.1" cy="534.0" r="6.6" fill="#e30b1c"/>
<circle cx="208.6" cy="543.3" r="5.7" fill="#e00f3c"/>
<circle cx="243.1" cy="548.1" r="4.2" fill="#4a3c98"/>
<circle cx="347.2" cy="551.4" r="7.5" fill="#e30b1c"/>
<circle cx="319.0" cy="562.8" r="7.2" fill="#e30b1c"/>
<circle cx="288.7" cy="571.2" r="6.9" fill="#e30b1c"/>
<circle cx="213.1" cy="569.7" r="4.2" fill="#6a3090"/>
<circle cx="237.4" cy="574.8" r="4.2" fill="#9a2a88"/>
<circle cx="260.5" cy="578.1" r="4.2" fill="#4a3c98"/>
<circle cx="211.9" cy="600.4" r="5.8" fill="#6a3090"/>
<circle cx="270.0" cy="607.2" r="6.6" fill="#e30b1c"/>
<circle cx="300.2" cy="609.2" r="7.2" fill="#e30b1c"/>
<circle cx="232.0" cy="613.0" r="5.8" fill="#9a2a88"/>
<circle cx="252.1" cy="630.7" r="6.5" fill="#3a48a0"/>
<circle cx="501.2" cy="480.5" r="6.5" fill="#e00f3c"/>
<circle cx="451.1" cy="511.8" r="6.5" fill="#4a3c98"/>
<circle cx="511.5" cy="539.1" r="5.8" fill="#7a2a88"/>
<circle cx="451.6" cy="572.5" r="5.8" fill="#e00f3c"/>
<circle cx="507.7" cy="580.9" r="6.5" fill="#e00f3c"/>
<circle cx="537.6" cy="668.7" r="5.6" fill="#d8125a"/>
<circle cx="488.0" cy="726.1" r="9.1" fill="#e30b1c"/>
<circle cx="548.9" cy="748.6" r="7.5" fill="#e20c28"/>
<circle cx="500.9" cy="775.9" r="8.8" fill="#e30b1c"/>
<circle cx="455.0" cy="798.7" r="10.3" fill="#e30b1c"/>
<circle cx="193.5" cy="723.1" r="4.2" fill="#7a2a90"/>
<circle cx="289.8" cy="859.2" r="5.8" fill="#2b4ea2"/>
</g>
<g stroke="#000" stroke-width="0.7">
<line x1="263.6" y1="457.2" x2="209.3" y2="542.5"/>
<line x1="301.6" y1="520.1" x2="283.0" y2="533.6"/>
<line x1="330.7" y1="547.7" x2="319.3" y2="562.2"/>
<line x1="347.7" y1="552.0" x2="362.5" y2="572.5"/>
<line x1="270.0" y1="606.7" x2="325.1" y2="620.5"/>
<line x1="285.3" y1="495.8" x2="287.6" y2="502.8"/>
</g>
<g class="lbb">
<text x="104.4" y="400.2">Neutrophil extracellular trap formation</text>
<text x="141.5" y="452.2">Staphylococcus aureus infection</text>
<text x="270.7" y="480.2">Phagosome</text>
<text x="259.2" y="495.2">Intestinal immune network for IgA production</text>
<text x="144.2" y="507.8">Tuberculosis</text>
<text x="313.1" y="522.8">Leishmaniasis</text>
<text x="54.0" y="539.8">Type I diabetes mellitus</text>
<text x="322.6" y="540.3">Toxoplasmosis</text>
<text x="92.6" y="558.9">Allograft rejection</text>
<text x="41.6" y="578.9">Graft−versus−host disease</text>
<text x="310.3" y="582.6">Rheumatoid arthritis</text>
<text x="150.2" y="595.4">Asthma</text>
<text x="68.6" y="610.5">Th17 cell differentiation</text>
<text x="311.8" y="612.9">Hematopoietic cell lineage</text>
<text x="53.6" y="626.5">Th1 and Th2 cell differentiation</text>
<text x="328.1" y="628.5">Inflammatory bowel disease</text>
<text x="95.1" y="650.5">Human T−cell leukemia virus 1 infection</text>
<text x="439.3" y="470.0">IL−17 signaling pathway</text>
<text x="421.8" y="532.8">Lipid and atherosclerosis</text>
<text x="500.4" y="560.4">Amoebiasis</text>
<text x="376.7" y="563.4">Legionellosis</text>
<text x="428.8" y="599.9">TNF signaling pathway</text>
<text x="229.2" y="688.4">Epithelial cell signaling in Helicobacter pylori infection</text>
<text x="88.5" y="745.9">Viral protein interaction with cytokine and cytokine receptor</text>
<text x="315.9" y="768.5">Chemokine signaling pathway</text>
<text x="523.3" y="769.5">Endocytosis</text>
<text x="259.3" y="817.5">Cytokine−cytokine receptor interaction</text>
<text x="223.2" y="848.1">Osteoclast differentiation</text>
</g>
<defs><linearGradient id="gr" x1="0" y1="0" x2="0" y2="1"><stop offset="0" stop-color="#2a50a3"/><stop offset="0.25" stop-color="#6a3792"/><stop offset="0.5" stop-color="#c00a7a"/><stop offset="0.75" stop-color="#d8104a"/><stop offset="1" stop-color="#e6001c"/></linearGradient></defs>
<text class="lt" x="573.8" y="51.5">number of genes</text>
<rect x="623.6" y="60.7" width="18" height="77.4" fill="#f2f2f2"/>
<circle cx="632.6" cy="67.7" r="3.9" fill="none" stroke="#000" stroke-width="0.9"/>
<text class="ll" x="645.8" y="70.5">5.0</text>
<circle cx="632.6" cy="80.8" r="5.0" fill="none" stroke="#000" stroke-width="0.9"/>
<text class="ll" x="645.8" y="83.6">7.5</text>
<circle cx="632.6" cy="95.2" r="5.9" fill="none" stroke="#000" stroke-width="0.9"/>
<text class="ll" x="645.8" y="98.0">10.0</text>
<circle cx="632.6" cy="111.1" r="6.6" fill="none" stroke="#000" stroke-width="0.9"/>
<text class="ll" x="645.8" y="113.9">12.5</text>
<circle cx="632.6" cy="128.9" r="7.3" fill="none" stroke="#000" stroke-width="0.9"/>
<text class="ll" x="645.8" y="131.7">15.0</text>
<text class="lt" x="627.6" y="187.7">p.adjust</text>
<rect x="627" y="192.9" width="14.1" height="69.1" fill="url(#gr)"/>
<line x1="638.3" x2="641.1" y1="202.2" y2="202.2" stroke="#fff" stroke-opacity="0.6" stroke-width="0.5"/>
<text class="ll" x="645" y="205.2">3e−04</text>
<line x1="638.3" x2="641.1" y1="222.3" y2="222.3" stroke="#fff" stroke-opacity="0.6" stroke-width="0.5"/>
<text class="ll" x="645" y="225.3">2e−04</text>
<line x1="638.3" x2="641.1" y1="241.7" y2="241.7" stroke="#fff" stroke-opacity="0.6" stroke-width="0.5"/>
<text class="ll" x="645" y="244.7">1e−04</text>
<text class="lt" x="571.4" y="517.7">number of genes</text>
<rect x="595.1" y="528.9" width="26.8" height="91.7" fill="#f2f2f2"/>
<circle cx="608.7" cy="538.8" r="7.1" fill="none" stroke="#000" stroke-width="0.9"/>
<text class="ll" x="627.9" y="543.6">4</text>
<circle cx="608.7" cy="559.2" r="8.6" fill="none" stroke="#000" stroke-width="0.9"/>
<text class="ll" x="627.9" y="564.0">8</text>
<circle cx="608.7" cy="581.6" r="9.9" fill="none" stroke="#000" stroke-width="0.9"/>
<text class="ll" x="627.9" y="586.4">12</text>
<circle cx="608.7" cy="607.6" r="11.2" fill="none" stroke="#000" stroke-width="0.9"/>
<text class="ll" x="627.9" y="612.4">16</text>
<text class="lt" x="601.3" y="662.5">p.adjust</text>
<rect x="601.1" y="669.9" width="20.8" height="102" fill="url(#gr)"/>
<text class="ll" x="629.3" y="691.7">0.06</text>
<text class="ll" x="629.3" y="717.7">0.04</text>
<text class="ll" x="629.3" y="743.6">0.02</text>
<line x1="601.1" x2="605.5" y1="694.3" y2="694.3" stroke="#fff" stroke-opacity="0.75" stroke-width="0.6"/>
<text class="pl" x="12.7" y="9.8">a</text>
<text class="pl" x="3.1" y="390.3">b</text>
</svg>
</body></html>
